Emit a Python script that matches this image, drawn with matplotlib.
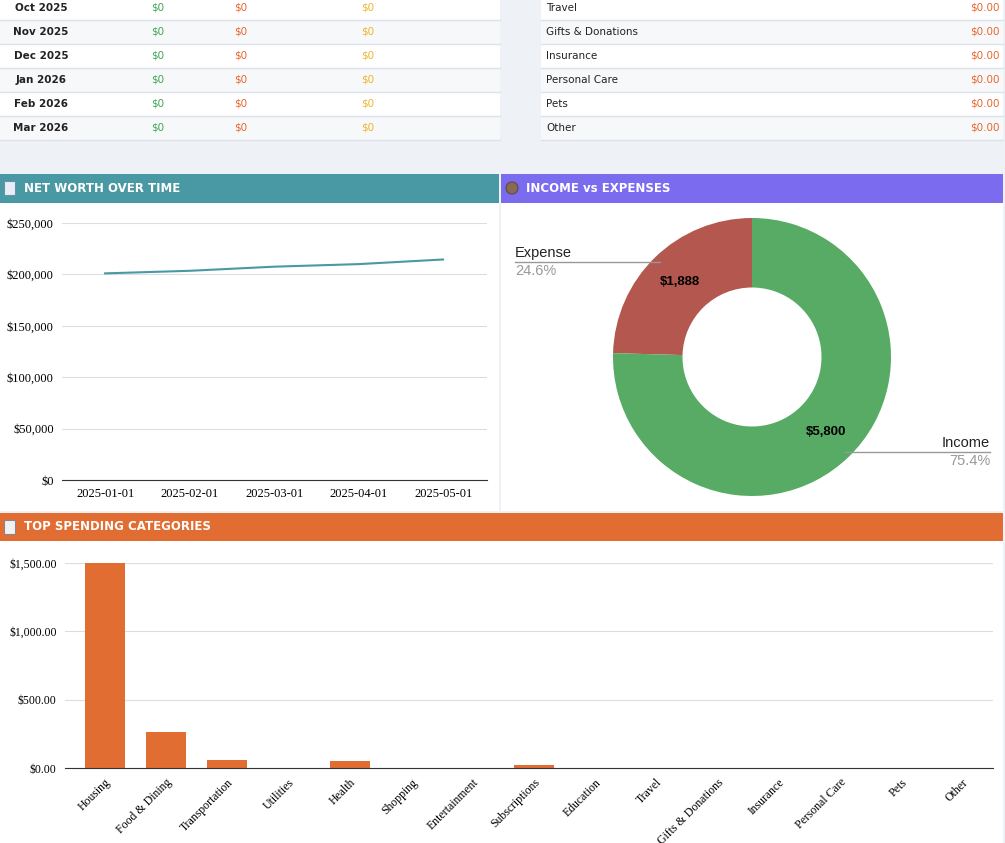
import numpy as np
import matplotlib.pyplot as plt
from matplotlib.patches import Rectangle
from matplotlib.ticker import FuncFormatter

# table data
months = ['Oct 2025', 'Nov 2025', 'Dec 2025', 'Jan 2026', 'Feb 2026', 'Mar 2026']
m_income = ['$0'] * 6
m_expense = ['$0'] * 6
m_net = ['$0'] * 6
cat_rows = ['Travel', 'Gifts & Donations', 'Insurance', 'Personal Care', 'Pets', 'Other']
cat_vals = ['$0.00'] * 6

# net worth
nw_dates = ['2025-01-01', '2025-02-01', '2025-03-01', '2025-04-01', '2025-05-01']
nw_values = [201000, 203500, 207500, 210000, 214500]

# income vs expenses
pie_labels = ['Expense', 'Income']
pie_values = [1888, 5800]

# spending categories
categories = ['Housing', 'Food & Dining', 'Transportation', 'Utilities', 'Health', 'Shopping',
              'Entertainment', 'Subscriptions', 'Education', 'Travel', 'Gifts & Donations',
              'Insurance', 'Personal Care', 'Pets', 'Other']
spend = [1500, 263, 58, 0, 48, 0, 0, 19, 0, 0, 0, 0, 0, 0, 0]

W, H = 1005, 843
fig = plt.figure(figsize=(W / 100, H / 100), dpi=100)
fig.patch.set_facecolor('#eef1f5')

def box(x0, y0, x1, y1):
    return [x0 / W, 1 - y1 / H, (x1 - x0) / W, (y1 - y0) / H]

bg = fig.add_axes([0, 0, 1, 1])
bg.set_xlim(0, W)
bg.set_ylim(H, 0)
bg.axis('off')

# tables
for i in range(6):
    yc = 8 + 24 * i
    col = '#ffffff' if i % 2 == 0 else '#f7f8fa'
    bg.add_patch(Rectangle((0, yc - 12), 500, 24, fc=col, ec='none'))
    bg.add_patch(Rectangle((541, yc - 12), 462, 24, fc=col, ec='none'))
    bg.plot([0, 500], [yc + 12, yc + 12], color='#dde2ea', lw=1)
    bg.plot([541, 1003], [yc + 12, yc + 12], color='#dde2ea', lw=1)
    bg.text(41, yc, months[i], ha='center', va='center', fontsize=7.5, fontweight='bold', color='#222222')
    bg.text(158, yc, m_income[i], ha='center', va='center', fontsize=7.5, color='#3aa852')
    bg.text(241, yc, m_expense[i], ha='center', va='center', fontsize=7.5, color='#e8652c')
    bg.text(368, yc, m_net[i], ha='center', va='center', fontsize=7.5, color='#f0b429')
    bg.text(546, yc, cat_rows[i], ha='left', va='center', fontsize=7.5, color='#222222')
    bg.text(1000, yc, cat_vals[i], ha='right', va='center', fontsize=7.5, color='#e8652c')

# headers
bg.add_patch(Rectangle((0, 174), 499, 29, fc='#4899a3', ec='none'))
bg.add_patch(Rectangle((501, 174), 502, 29, fc='#7b6cef', ec='none'))
bg.add_patch(Rectangle((0, 513), 1003, 28, fc='#e26d33', ec='none'))
bg.text(24, 188.5, 'NET WORTH OVER TIME', va='center', fontsize=8.5, fontweight='bold', color='white')
bg.text(526, 188.5, 'INCOME vs EXPENSES', va='center', fontsize=8.5, fontweight='bold', color='white')
bg.text(24, 527, 'TOP SPENDING CATEGORIES', va='center', fontsize=8.5, fontweight='bold', color='white')
bg.add_patch(Rectangle((4, 181), 11, 14, fc='#e8eef5', ec='#6a8fb0', lw=0.8))
bg.add_patch(plt.Circle((512, 188), 6, fc='#8a6a55', ec='#5a4a40', lw=0.8))
bg.add_patch(Rectangle((4, 520), 11, 14, fc='#f2f2f2', ec='#888888', lw=0.8))
# panels
bg.add_patch(Rectangle((0, 203), 499, 308, fc='white', ec='none'))
bg.add_patch(Rectangle((501, 203), 502, 308, fc='white', ec='none'))
bg.add_patch(Rectangle((0, 541), 1003, 302, fc='white', ec='none'))

serif = 'Liberation Serif'

# net worth line
ax1 = fig.add_axes(box(62, 223, 487, 480))
x = np.arange(len(nw_dates))
ax1.plot(x, nw_values, color='#4899a3', lw=1.5)
ax1.set_xlim(-0.51, len(nw_dates) - 0.48)
ax1.set_ylim(0, 250000)
ax1.set_yticks(np.arange(0, 250001, 50000))
ax1.yaxis.set_major_formatter(FuncFormatter(lambda v, p: f'${v:,.0f}'))
ax1.set_xticks(x)
ax1.set_xticklabels(nw_dates)
ax1.grid(axis='y', color='#dddddd', lw=0.8)
ax1.set_axisbelow(True)
for s in ['top', 'right', 'left']:
    ax1.spines[s].set_visible(False)
ax1.spines['bottom'].set_color('#333333')
ax1.tick_params(length=0, labelsize=9, pad=6)
for t in ax1.get_xticklabels() + ax1.get_yticklabels():
    t.set_fontfamily(serif)

# donut
ax2 = fig.add_axes(box(613, 218, 891, 496))
ax2.pie(pie_values, colors=['#b3574f', '#57ab64'], startangle=90, counterclock=True,
        radius=1, wedgeprops=dict(width=0.5, edgecolor='none'))
ax2.set_xlim(-1, 1)
ax2.set_ylim(-1, 1)
ax2.set_aspect('equal')

# overlay for labels on top of the donut
ov = fig.add_axes([0, 0, 1, 1])
ov.set_xlim(0, W)
ov.set_ylim(H, 0)
ov.axis('off')
ov.patch.set_alpha(0)
ov.text(680, 282, '$1,888', ha='center', va='center', fontsize=9.5, fontweight='bold', family='Liberation Sans')
ov.text(826, 432, '$5,800', ha='center', va='center', fontsize=9.5, fontweight='bold', family='Liberation Sans')
total = sum(pie_values)
ov.plot([515, 660], [262, 262], color='#999999', lw=1)
ov.text(515, 260, pie_labels[0], ha='left', va='bottom', fontsize=10.5, family='Liberation Sans', color='#222222')
ov.text(515, 264, f'{pie_values[0] / total * 100:.1f}%', ha='left', va='top', fontsize=10.5, family='Liberation Sans', color='#999999')
ov.plot([845, 990], [452, 452], color='#999999', lw=1)
ov.text(990, 450, pie_labels[1], ha='right', va='bottom', fontsize=10.5, family='Liberation Sans', color='#222222')
ov.text(990, 454, f'{pie_values[1] / total * 100:.1f}%', ha='right', va='top', fontsize=10.5, family='Liberation Sans', color='#999999')

# spending bars
ax3 = fig.add_axes(box(65, 563, 993, 768))
xb = np.arange(len(categories))
ax3.bar(xb, spend, width=0.65, color='#e26d33')
ax3.set_xlim(-0.65, len(categories) - 0.5)
ax3.set_ylim(0, 1500)
ax3.set_yticks([0, 500, 1000, 1500])
ax3.yaxis.set_major_formatter(FuncFormatter(lambda v, p: f'${v:,.2f}'))
ax3.set_xticks(xb)
ax3.set_xticklabels(categories, rotation=45, ha='right', rotation_mode='anchor')
ax3.grid(axis='y', color='#dddddd', lw=0.8)
ax3.set_axisbelow(True)
for s in ['top', 'right', 'left']:
    ax3.spines[s].set_visible(False)
ax3.spines['bottom'].set_color('#333333')
ax3.tick_params(length=0, labelsize=8.5, pad=6)
for t in ax3.get_xticklabels() + ax3.get_yticklabels():
    t.set_fontfamily(serif)

fig.savefig('out.png', dpi=100, facecolor=fig.get_facecolor())
